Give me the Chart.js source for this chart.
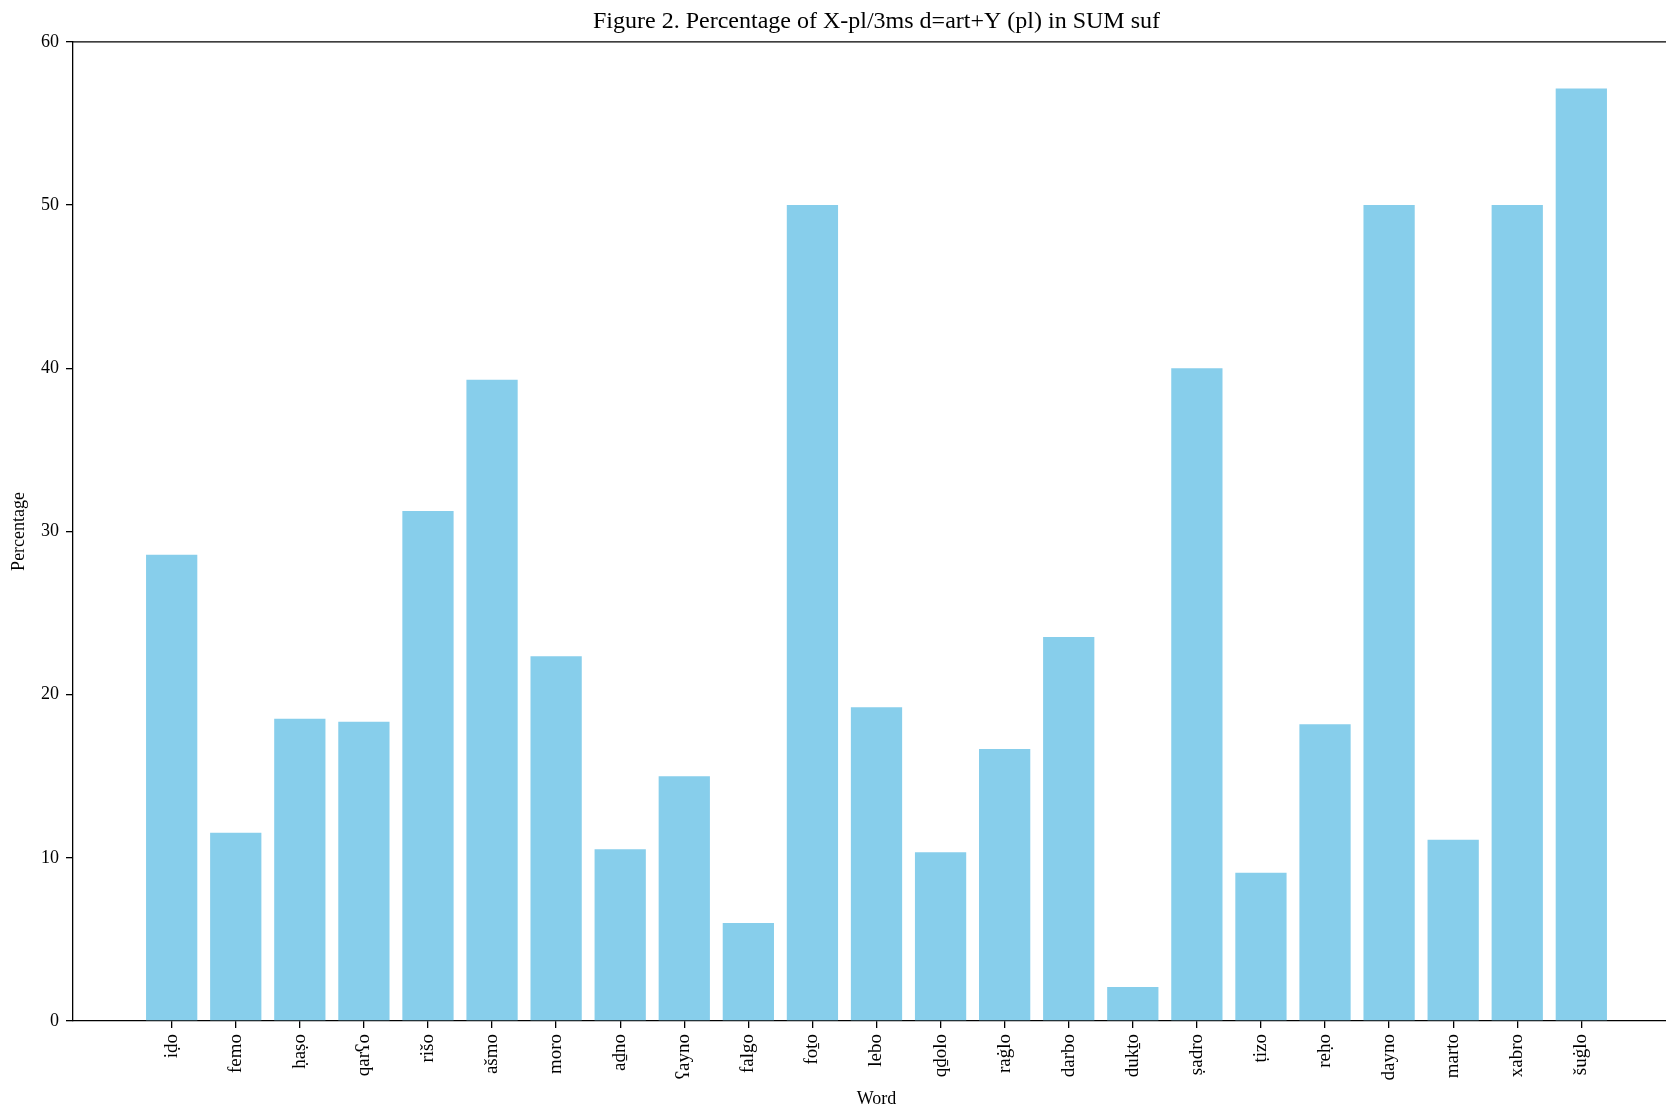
<!DOCTYPE html>
<html>
<head>
<meta charset="utf-8">
<title>Figure 2</title>
<script src="https://cdn.jsdelivr.net/npm/chart.js@4/dist/chart.umd.min.js"></script>
<style>
  html, body { margin: 0; padding: 0; background: #fff; overflow: hidden; }
  #wrap { position: absolute; left: 0; top: 0; width: 1700px; height: 1108px; }
</style>
</head>
<body>
<div id="wrap"><canvas id="bars" width="1700" height="1108"></canvas></div>
<script>
// words on the x axis
var words = ['iḍo', 'femo', 'ḥaṣo', 'qarʕo', 'rišo', 'ašmo', 'moro', 'aḏno', 'ʕayno', 'falgo',
             'foṯo', 'lebo', 'qḏolo', 'raġlo', 'darbo', 'dukṯo', 'ṣadro', 'ṭizo', 'reḥo', 'dayno',
             'marto', 'xabro', 'šuġlo'];
// percentage per word
var percentages = [28.57, 11.54, 18.52, 18.33, 31.25, 39.29, 22.35, 10.53, 15.0, 6.0,
                   50.0, 19.23, 10.34, 16.67, 23.53, 2.08, 40.0, 9.09, 18.18, 50.0,
                   11.11, 50.0, 57.14];
var yTicks = [0, 10, 20, 30, 40, 50, 60];

var serif = 'Liberation Serif';

// top spine like matplotlib
var spines = {
  id: 'spines',
  afterDraw: function(chart) {
    var a = chart.chartArea, ctx = chart.ctx;
    ctx.save();
    ctx.strokeStyle = '#000';
    ctx.lineWidth = 1.3;
    ctx.beginPath();
    ctx.moveTo(a.left, a.top);
    ctx.lineTo(a.right, a.top);
    ctx.lineTo(a.right, a.bottom);
    ctx.stroke();
    ctx.restore();
  }
};

var puntos = words.map(function(w, i) { return {x: i, y: percentages[i]}; });

new Chart(document.getElementById('bars'), {
  type: 'bar',
  data: {
    datasets: [{
      label: 'Percentage',
      data: puntos,
      backgroundColor: '#87CEEB',
      borderWidth: 0,
      barPercentage: 0.8,
      categoryPercentage: 1.0
    }]
  },
  options: {
    responsive: false,
    animation: false,
    devicePixelRatio: 1,
    layout: { padding: { left: 0, right: 20, top: 0, bottom: 0 } },
    plugins: {
      legend: { display: false },
      tooltip: { enabled: false },
      title: {
        display: true,
        fullSize: false,
        text: 'Figure 2. Percentage of X-pl/3ms d=art+Y (pl) in SUM suf',
        color: '#000',
        font: { family: serif, size: 24, weight: 'normal', lineHeight: 1.2 },
        padding: { top: 7, bottom: 6 }
      }
    },
    scales: {
      x: {
        type: 'linear',
        min: -1.54,
        max: 23.54,
        offset: false,
        afterBuildTicks: function(scale) {
          scale.ticks = words.map(function(w, i) { return {value: i}; });
        },
        afterFit: function(scale) { scale.height = 87; },
        grid: { display: true, offset: false, drawOnChartArea: false, drawTicks: true, tickLength: 7, color: '#000', lineWidth: 1.3 },
        border: { display: true, color: '#000', width: 1.3 },
        ticks: {
          autoSkip: false,
          minRotation: 90,
          maxRotation: 90,
          padding: 6,
          color: '#000',
          font: { family: serif, size: 19 },
          callback: function(v) { return words[v]; }
        },
        title: {
          display: true,
          text: 'Word',
          color: '#000',
          font: { family: serif, size: 18, lineHeight: 1 },
          padding: { top: 0, bottom: 0 }
        }
      },
      y: {
        min: 0,
        max: 60,
        afterBuildTicks: function(scale) {
          scale.ticks = yTicks.map(function(t) { return {value: t}; });
        },
        afterFit: function(scale) { scale.width = 73; },
        grid: { display: true, drawOnChartArea: false, drawTicks: true, tickLength: 7, color: '#000', lineWidth: 1.3 },
        border: { display: true, color: '#000', width: 1.3 },
        ticks: {
          padding: 7,
          color: '#000',
          font: { family: serif, size: 18 }
        },
        title: {
          display: true,
          text: 'Percentage',
          color: '#000',
          font: { family: serif, size: 18, lineHeight: 1 },
          padding: { top: 10, bottom: 0 }
        }
      }
    }
  },
  plugins: [spines]
});
</script>
</body>
</html>
